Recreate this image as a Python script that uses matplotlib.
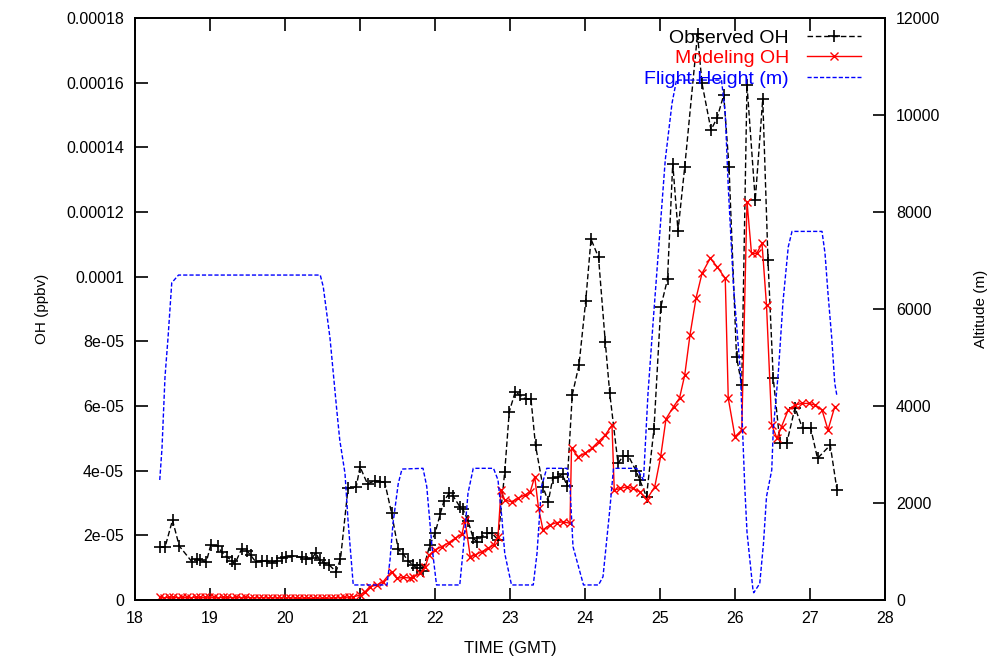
import matplotlib
matplotlib.use("Agg")
import matplotlib.pyplot as plt
import numpy as np

plt.rcParams["font.family"] = ["Liberation Sans", "DejaVu Sans"]

# observed OH (ppbv, in units of 1e-5)
obs_time = [18.33, 18.40, 18.50, 18.59, 18.76, 18.82, 18.86, 18.95, 19.01, 19.10,
            19.16, 19.22, 19.29, 19.33, 19.42, 19.49, 19.54, 19.61, 19.69, 19.76,
            19.82, 19.89, 19.96, 20.01, 20.09, 20.22, 20.28, 20.36, 20.41, 20.46,
            20.52, 20.59, 20.68, 20.74, 20.84, 20.95, 21.00, 21.10, 21.20, 21.27,
            21.33, 21.42, 21.51, 21.58, 21.64, 21.71, 21.76, 21.80, 21.84, 21.93,
            22.00, 22.07, 22.12, 22.19, 22.24, 22.33, 22.37, 22.44, 22.51, 22.56,
            22.62, 22.69, 22.76, 22.84, 22.93, 22.99, 23.07, 23.13, 23.21, 23.28,
            23.34, 23.44, 23.51, 23.57, 23.64, 23.70, 23.76, 23.83, 23.92, 24.01,
            24.08, 24.18, 24.27, 24.33, 24.44, 24.51, 24.58, 24.68, 24.73, 24.82,
            24.92, 25.01, 25.10, 25.17, 25.24, 25.33, 25.50, 25.56, 25.68, 25.76,
            25.85, 25.92, 26.02, 26.09, 26.16, 26.27, 26.37, 26.44, 26.51, 26.60,
            26.69, 26.80, 26.90, 27.01, 27.10, 27.27, 27.36]
obs_oh_e5 = [1.63, 1.63, 2.47, 1.67, 1.18, 1.27, 1.24, 1.17, 1.70, 1.67,
             1.47, 1.34, 1.22, 1.11, 1.57, 1.53, 1.39, 1.18, 1.22, 1.22,
             1.15, 1.22, 1.29, 1.34, 1.36, 1.32, 1.26, 1.29, 1.46, 1.24,
             1.15, 1.08, 0.88, 1.27, 3.45, 3.50, 4.12, 3.59, 3.69, 3.66,
             3.64, 2.70, 1.57, 1.41, 1.21, 1.08, 0.98, 1.08, 0.91, 1.70,
             2.06, 2.66, 3.07, 3.30, 3.22, 2.89, 2.82, 2.45, 1.91, 1.80,
             1.96, 2.06, 2.06, 1.86, 3.97, 5.82, 6.44, 6.34, 6.21, 6.21,
             4.78, 3.50, 3.04, 3.76, 3.81, 3.89, 3.53, 6.34, 7.27, 9.26,
             11.16, 10.60, 7.99, 6.39, 4.23, 4.45, 4.45, 4.00, 3.71, 3.20,
             5.30, 9.06, 9.92, 13.50, 11.42, 13.40, 17.50, 15.98, 14.54, 14.90,
             15.62, 13.40, 7.52, 6.65, 15.93, 12.37, 15.50, 10.50, 6.86, 4.85,
             4.85, 5.95, 5.31, 5.31, 4.38, 4.79, 3.40]

# modelled OH (ppbv, in units of 1e-5)
mod_time = [18.33, 18.39, 18.45, 18.51, 18.57, 18.63, 18.69, 18.75, 18.81, 18.87,
            18.93, 18.99, 19.05, 19.11, 19.17, 19.23, 19.29, 19.35, 19.41, 19.47,
            19.53, 19.59, 19.65, 19.71, 19.77, 19.83, 19.89, 19.95, 20.01, 20.07,
            20.13, 20.19, 20.25, 20.31, 20.37, 20.43, 20.49, 20.55, 20.61, 20.67,
            20.73, 20.79, 20.85, 20.91, 21.00, 21.07, 21.13, 21.22, 21.31, 21.42,
            21.49, 21.58, 21.66, 21.71, 21.80, 21.87, 21.92, 22.00, 22.09, 22.18,
            22.27, 22.36, 22.40, 22.47, 22.53, 22.62, 22.71, 22.78, 22.84, 22.88,
            22.93, 23.02, 23.11, 23.20, 23.27, 23.33, 23.38, 23.44, 23.53, 23.62,
            23.71, 23.80, 23.82, 23.91, 24.00, 24.09, 24.18, 24.27, 24.36, 24.39,
            24.47, 24.56, 24.64, 24.73, 24.82, 24.93, 25.01, 25.08, 25.18, 25.26,
            25.33, 25.40, 25.48, 25.56, 25.67, 25.76, 25.87, 25.91, 26.00, 26.09,
            26.16, 26.22, 26.29, 26.36, 26.42, 26.49, 26.56, 26.62, 26.71, 26.80,
            26.89, 26.98, 27.07, 27.16, 27.24, 27.33]
mod_oh_e5 = [0.08, 0.07, 0.08, 0.09, 0.07, 0.08, 0.08, 0.07, 0.09, 0.08,
             0.08, 0.09, 0.08, 0.07, 0.08, 0.08, 0.07, 0.08, 0.07, 0.08,
             0.07, 0.06, 0.07, 0.07, 0.06, 0.07, 0.06, 0.06, 0.07, 0.06,
             0.06, 0.05, 0.06, 0.05, 0.05, 0.06, 0.05, 0.05, 0.06, 0.06,
             0.07, 0.08, 0.09, 0.10, 0.15, 0.26, 0.41, 0.46, 0.57, 0.88,
             0.67, 0.70, 0.68, 0.72, 0.82, 1.03, 1.39, 1.55, 1.65, 1.77,
             1.91, 2.04, 2.47, 1.34, 1.39, 1.49, 1.60, 1.70, 1.96, 3.40,
             3.09, 3.04, 3.15, 3.25, 3.35, 3.81, 2.84, 2.17, 2.32, 2.39,
             2.42, 2.37, 4.69, 4.43, 4.54, 4.69, 4.90, 5.10, 5.41, 3.40,
             3.45, 3.50, 3.45, 3.35, 3.10, 3.50, 4.45, 5.60, 5.98, 6.24,
             6.96, 8.20, 9.33, 10.10, 10.57, 10.31, 9.95, 6.24, 5.05, 5.26,
             12.32, 10.72, 10.72, 11.03, 9.12, 5.41, 5.00, 5.36, 5.88, 6.03,
             6.08, 6.08, 6.03, 5.88, 5.26, 5.98]

# flight altitude (m)
alt_time = [18.33, 18.36, 18.40, 18.44, 18.49, 18.58, 20.47, 20.51, 20.60, 20.69,
            20.73, 20.80, 20.84, 20.91, 21.36, 21.40, 21.44, 21.51, 21.56, 21.84,
            21.89, 21.96, 22.02, 22.33, 22.38, 22.44, 22.51, 22.78, 22.84, 22.89,
            22.93, 23.02, 23.31, 23.36, 23.42, 23.49, 23.76, 23.80, 23.84, 23.98,
            24.18, 24.24, 24.33, 24.38, 24.69, 24.78, 24.84, 24.91, 25.07, 25.16,
            25.22, 25.82, 25.87, 25.91, 25.98, 26.07, 26.13, 26.16, 26.24, 26.25,
            26.33, 26.38, 26.42, 26.49, 26.51, 26.58, 26.64, 26.71, 26.76, 27.16,
            27.20, 27.24, 27.29, 27.33, 27.36]
alt_m = [2475, 3130, 4600, 5400, 6540, 6700, 6700, 6460, 5400, 3920,
         3300, 2610, 1650, 310, 310, 825, 1580, 2400, 2700, 2715,
         2340, 1100, 310, 310, 1100, 2200, 2715, 2715, 2475, 1720,
         960, 310, 310, 960, 2340, 2715, 2715, 2340, 1100, 310,
         310, 480, 1855, 2715, 2715, 2475, 4260, 5770, 9070, 10240,
         10720, 10720, 10030, 8520, 6460, 4740, 2340, 1400, 200, 150,
         340, 1170, 2130, 2680, 3500, 4740, 6150, 7280, 7600, 7600,
         7150, 6320, 5400, 4470, 4200]

x_ticks = [18, 19, 20, 21, 22, 23, 24, 25, 26, 27, 28]
oh_ticks = [0, 2e-5, 4e-5, 6e-5, 8e-5, 1e-4, 1.2e-4, 1.4e-4, 1.6e-4, 1.8e-4]
oh_tick_labels = ["0", "2e-05", "4e-05", "6e-05", "8e-05", "0.0001",
                  "0.00012", "0.00014", "0.00016", "0.00018"]
alt_ticks = [0, 2000, 4000, 6000, 8000, 10000, 12000]

fig = plt.figure(figsize=(9.9, 6.64), dpi=100)
ax = fig.add_axes([135 / 990, 64 / 664, 750 / 990, 582 / 664])
ax2 = ax.twinx()

obs_line, = ax.plot(obs_time, np.array(obs_oh_e5) * 1e-5, color="black", lw=1.0,
                    dashes=(4, 2), marker="+", ms=8, mew=1.2, label="Observed OH")
mod_line, = ax.plot(mod_time, np.array(mod_oh_e5) * 1e-5, color="red", lw=1.0,
                    marker="x", ms=6, mew=1.0, label="Modeling OH")
alt_line, = ax2.plot(alt_time, alt_m, color="blue", lw=1.0, dashes=(3, 1.5),
                     label="Flight Height (m)")

ax.set_xlim(18, 28)
ax.set_ylim(0, 1.8e-4)
ax2.set_ylim(0, 12000)
ax.set_xticks(x_ticks)
ax.set_yticks(oh_ticks)
ax.set_yticklabels(oh_tick_labels)
ax2.set_yticks(alt_ticks)

ax.tick_params(axis="both", direction="in", length=9, width=1.2, labelsize=11.5,
               pad=8, top=True, right=False, colors="black")
ax2.tick_params(axis="y", direction="in", length=9, width=1.2, labelsize=11.5, pad=8)
for a in (ax, ax2):
    for s in a.spines.values():
        s.set_linewidth(1.3)

ax.set_xlabel("TIME (GMT)", fontsize=12, labelpad=11)
ax.set_ylabel("OH (ppbv)", fontsize=11, labelpad=12)
ax2.set_ylabel("Altitude (m)", fontsize=11, labelpad=24, rotation=90)

leg = ax2.legend(handles=[obs_line, mod_line, alt_line], loc="upper right",
                 bbox_to_anchor=(861 / 990, 1 - 29 / 664), bbox_transform=fig.transFigure,
                 frameon=False, markerfirst=False, labelcolor="linecolor",
                 fontsize=14, handlelength=2.8, handletextpad=0.9,
                 labelspacing=0.15, borderpad=0, borderaxespad=0)

fig.savefig("out.png", dpi=100)
